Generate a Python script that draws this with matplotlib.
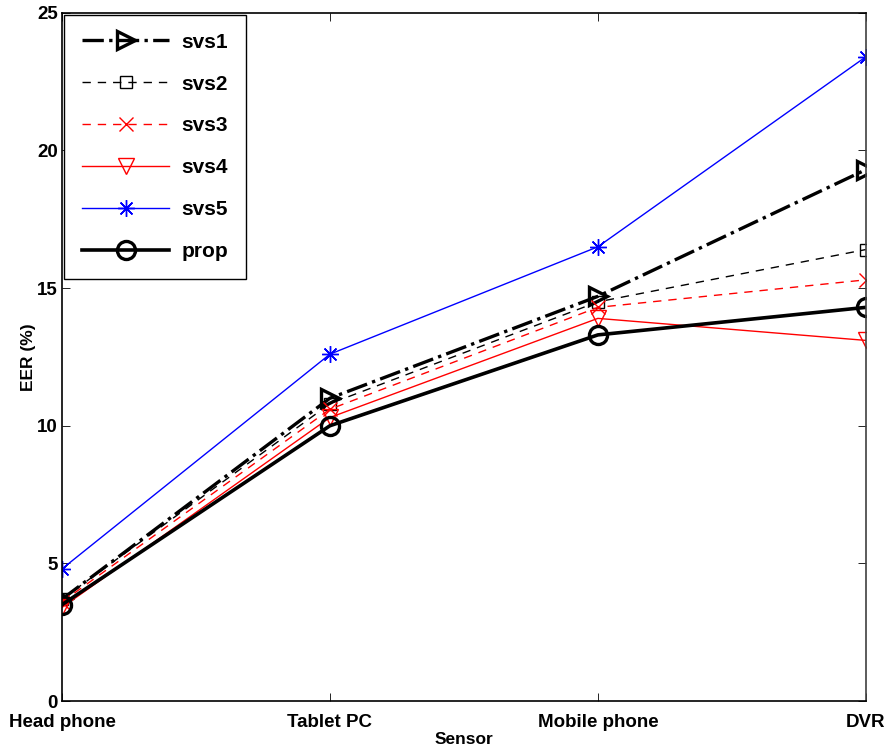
import matplotlib
matplotlib.use("Agg")
import matplotlib.pyplot as plt

sensors = ["Head phone", "Tablet PC", "Mobile phone", "DVR"]
svs1 = [3.7, 11.0, 14.7, 19.3]
svs2 = [3.7, 10.8, 14.5, 16.4]
svs3 = [3.6, 10.6, 14.3, 15.3]
svs4 = [3.4, 10.3, 13.9, 13.1]
svs5 = [4.8, 12.6, 16.5, 23.4]
prop = [3.5, 10.0, 13.3, 14.3]
yticks = [0, 5, 10, 15, 20, 25]

plt.rcParams["font.family"] = ["Liberation Sans", "DejaVu Sans"]
plt.rcParams["font.weight"] = "bold"

fig = plt.figure(figsize=(8.88, 7.53), dpi=100)
ax = fig.add_axes([0.0698, 0.069, 0.9052, 0.914])

x = list(range(len(sensors)))
ax.plot(x, svs1, color="black", linestyle="-.", linewidth=2.4, marker=">",
        markersize=13, markerfacecolor="none", markeredgewidth=2.4, label="svs1")
ax.plot(x, svs2, color="black", linestyle=(0, (6, 5)), linewidth=1.0, marker="s",
        markersize=9, markerfacecolor="none", markeredgewidth=1.0, label="svs2")
ax.plot(x, svs3, color="red", linestyle=(0, (6, 5)), linewidth=1.0, marker="x",
        markersize=10, markeredgewidth=1.0, label="svs3")
ax.plot(x, svs4, color="red", linestyle="-", linewidth=1.0, marker="v",
        markersize=12, markerfacecolor="none", markeredgewidth=1.0, label="svs4")
ax.plot(x, svs5, color="blue", linestyle="-", linewidth=1.0, marker=(8, 2, 0),
        markersize=12, markeredgewidth=1.0, label="svs5")
ax.plot(x, prop, color="black", linestyle="-", linewidth=2.6, marker="o",
        markersize=13, markerfacecolor="none", markeredgewidth=2.4, label="prop")

ax.set_xlim(0, len(sensors) - 1)
ax.set_ylim(0, 25)
ax.set_xticks(x)
ax.set_xticklabels(sensors, fontsize=13.5, fontweight="bold")
ax.set_yticks(yticks)
ax.set_yticklabels([str(v) for v in yticks], fontsize=13.5, fontweight="bold")
ax.tick_params(direction="in", top=True, right=True, length=6, width=0.6)
ax.tick_params(axis="x", pad=9)
ax.tick_params(axis="y", pad=3)
ax.set_xlabel("Sensor", fontsize=12.5, fontweight="bold", labelpad=1)
ax.set_ylabel("EER (%)", fontsize=12.5, fontweight="bold", labelpad=1)
for s in ax.spines.values():
    s.set_linewidth(1.2)
ax.spines["right"].set_color("#404040")

leg = ax.legend(loc="upper left", bbox_to_anchor=(0.0, 1.0), handlelength=4.2,
                prop={"weight": "bold", "size": 15}, fancybox=False,
                edgecolor="black", framealpha=1, labelspacing=1.1,
                borderpad=0.85, handletextpad=0.6, borderaxespad=0.1)
leg.get_frame().set_linewidth(1.0)

fig.savefig("out.png", dpi=100)
